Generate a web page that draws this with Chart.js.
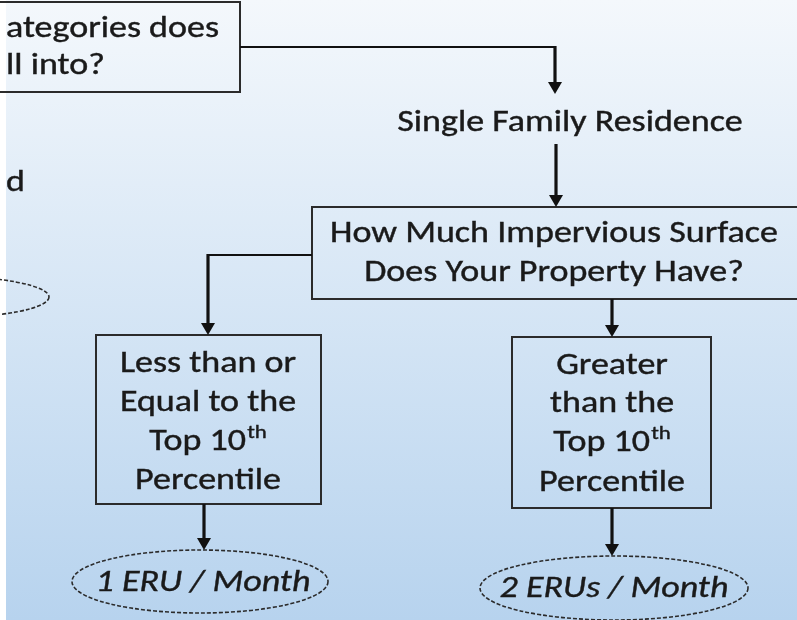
<!DOCTYPE html>
<html>
<head>
<meta charset="utf-8">
<script src="https://cdn.jsdelivr.net/npm/chart.js@4"></script>
<style>
html,body{margin:0;padding:0;background:#fff;}
#wrap{position:relative;width:797px;height:620px;overflow:hidden;}
canvas{display:block;}
</style>
</head>
<body>
<div id="wrap"><canvas id="c" width="797" height="620"></canvas></div>
<script>
// ---- flowchart content (data) ----
const nodeText = [
  ["ategories does", "ll into?"],
  ["Single Family Residence"],
  ["How Much Impervious Surface", "Does Your Property Have?"],
  ["Less than or", "Equal to the", "Top 10^th", "Percentile"],
  ["Greater", "than the", "Top 10^th", "Percentile"],
  ["1 ERU / Month"],
  ["2 ERUs / Month"],
  ["d"],
  []
];
const nodeShape = ["box", "text", "box", "box", "box", "ellipse", "ellipse", "text", "ellipse"];
// node geometry in chart units (x: 0-797, y: 0-620 from top)
const nodeLeft   = [-220, 397, 312, 96, 512, 72, 480, 6, -170];
const nodeRight  = [240, 742, 830, 321, 711, 328, 748, 30, 49];
const nodeTop    = [2, 106, 207, 335, 337, 550, 556, 166, 276];
const nodeBottom = [92, 138, 299, 504, 508, 613, 620, 198, 318];
const nodeTextX  = [6, 570, 554, 208, 612, 203, 614, 6, 0];
const nodeAlign  = ["left", "center", "center", "center", "center", "center", "center", "left", "center"];
const nodeLineY  = [[29, 66], [123], [234, 273], [364, 403, 442, 481], [366, 404, 443, 483], [583], [589], [183], []];
// connectors: polylines ending with an arrowhead
const connectors = [
  [[240, 47], [555, 47], [555, 94]],
  [[556, 144], [556, 207]],
  [[312, 255], [208, 255], [208, 335]],
  [[612, 299], [612, 337]],
  [[204, 504], [204, 550]],
  [[612, 508], [612, 556]]
];

const flowPlugin = {
  id: 'flow',
  beforeDraw(chart) {
    const {ctx, width, height} = chart;
    const g = ctx.createLinearGradient(0, 0, 0, height);
    g.addColorStop(0, '#f4f8fc');
    g.addColorStop(1, '#b7d3ee');
    ctx.save();
    ctx.fillStyle = g;
    ctx.fillRect(0, 0, width, height);
    ctx.fillStyle = '#ffffff';
    ctx.fillRect(0, 0, 6, height);
    ctx.restore();
  },
  afterDatasetsDraw(chart) {
    const ctx = chart.ctx;
    const xs = chart.scales.x, ys = chart.scales.y;
    const X = v => xs.getPixelForValue(v);
    const Y = v => ys.getPixelForValue(v);
    ctx.save();
    // shapes
    for (let i = 0; i < nodeShape.length; i++) {
      const l = X(nodeLeft[i]), r = X(nodeRight[i]);
      const t = Y(nodeTop[i]), b = Y(nodeBottom[i]);
      if (nodeShape[i] === 'box') {
        ctx.strokeStyle = '#2b2b2b';
        ctx.lineWidth = 2;
        ctx.setLineDash([]);
        ctx.strokeRect(l, t, r - l, b - t);
      } else if (nodeShape[i] === 'ellipse') {
        ctx.strokeStyle = '#2b2b2b';
        ctx.lineWidth = 1.6;
        ctx.setLineDash([4, 2]);
        ctx.beginPath();
        ctx.ellipse((l + r) / 2, (t + b) / 2, (r - l) / 2, (b - t) / 2, 0, 0, Math.PI * 2);
        ctx.stroke();
        ctx.setLineDash([]);
      }
    }
    // connectors
    ctx.strokeStyle = '#111';
    ctx.fillStyle = '#111';
    connectors.forEach(pts => {
      for (let k = 0; k < pts.length - 1; k++) {
        const a = pts[k], c = pts[k + 1];
        const horiz = a[1] === c[1];
        ctx.lineWidth = horiz ? 2 : 3.2;
        ctx.beginPath();
        const startY = (!horiz && k > 0) ? Y(a[1]) - 1 : Y(a[1]);
        ctx.moveTo(X(a[0]), startY);
        const endY = (k === pts.length - 2 && !horiz) ? Y(c[1]) - 8 : Y(c[1]);
        ctx.lineTo(X(c[0]), endY);
        ctx.stroke();
      }
      const e = pts[pts.length - 1];
      const ex = X(e[0]), ey = Y(e[1]);
      ctx.beginPath();
      ctx.moveTo(ex - 7, ey - 12);
      ctx.lineTo(ex + 7, ey - 12);
      ctx.lineTo(ex, ey);
      ctx.closePath();
      ctx.fill();
    });
    // text
    const K = 1.2; // horizontal stretch of the original rendering
    ctx.fillStyle = '#1a1a1a';
    ctx.strokeStyle = '#1a1a1a';
    ctx.lineWidth = 0.4;
    ctx.textBaseline = 'middle';
    ctx.textAlign = 'left';
    for (let i = 0; i < nodeText.length; i++) {
      const italic = nodeShape[i] === 'ellipse';
      const size = 30;
      nodeText[i].forEach((line, j) => {
        const y = Y(nodeLineY[i][j]);
        const x = X(nodeTextX[i]);
        const parts = line.split('^');
        const mainFont = (italic ? 'italic ' : '') + size + 'px Carlito, Calibri, Lato, sans-serif';
        const supFont = Math.round(size * 0.62) + 'px Carlito, Calibri, Lato, sans-serif';
        ctx.font = mainFont;
        const w0 = ctx.measureText(parts[0]).width;
        let w1 = 0;
        if (parts[1]) { ctx.font = supFont; w1 = ctx.measureText(parts[1]).width + 1; }
        const total = (w0 + w1) * K;
        const sx = nodeAlign[i] === 'center' ? x - total / 2 : x;
        ctx.save();
        ctx.translate(sx, y);
        ctx.scale(K, 1);
        ctx.font = mainFont;
        ctx.fillText(parts[0], 0, 0);
        ctx.strokeText(parts[0], 0, 0);
        if (parts[1]) {
          ctx.font = supFont;
          ctx.fillText(parts[1], w0 + 1, -size * 0.3);
          ctx.strokeText(parts[1], w0 + 1, -size * 0.3);
        }
        ctx.restore();
      });
    }
    ctx.restore();
  }
};

new Chart(document.getElementById('c'), {
  type: 'scatter',
  data: {
    datasets: [{
      data: nodeShape.map((s, i) => ({x: (nodeLeft[i] + nodeRight[i]) / 2, y: (nodeTop[i] + nodeBottom[i]) / 2})),
      pointRadius: 0,
      pointHoverRadius: 0
    }]
  },
  options: {
    responsive: false,
    animation: false,
    events: [],
    layout: {padding: 0},
    plugins: {legend: {display: false}, tooltip: {enabled: false}},
    scales: {
      x: {type: 'linear', min: 0, max: 797, display: false},
      y: {type: 'linear', min: 0, max: 620, reverse: true, display: false}
    }
  },
  plugins: [flowPlugin]
});
</script>
</body>
</html>
